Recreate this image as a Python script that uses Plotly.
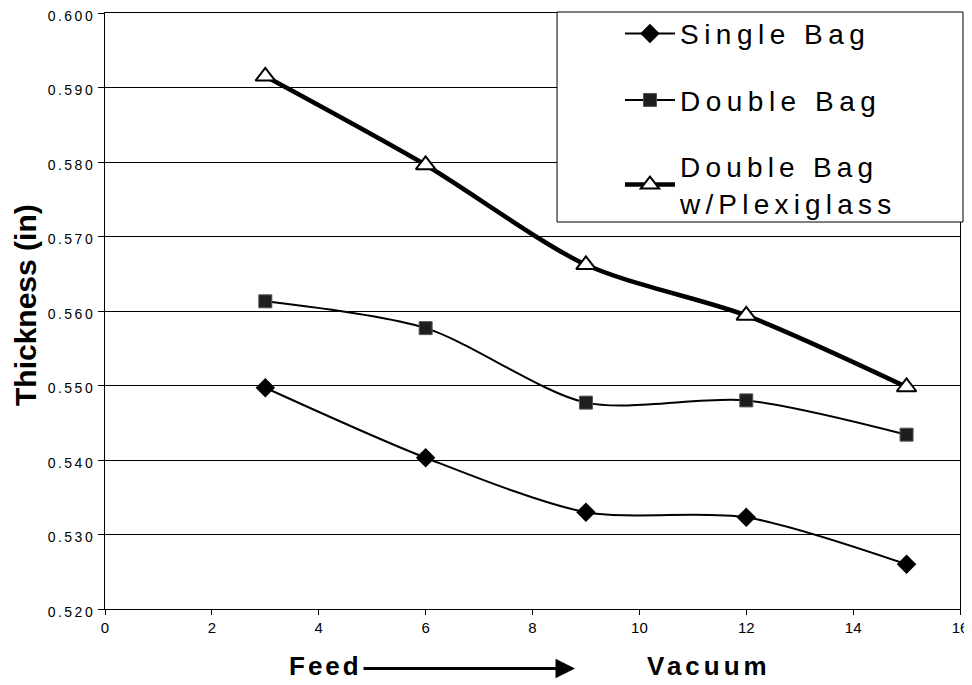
import plotly.graph_objects as go

x_vals = [3, 6, 9, 12, 15]
single_bag = [0.5497, 0.5403, 0.5330, 0.5323, 0.5260]
double_bag = [0.5613, 0.5577, 0.5477, 0.5480, 0.5434]
double_bag_plexi = [0.5915, 0.5796, 0.5662, 0.5594, 0.5498]
y_ticks = [0.520, 0.530, 0.540, 0.550, 0.560, 0.570, 0.580, 0.590, 0.600]
y_tick_labels = ["0.520", "0.530", "0.540", "0.550", "0.560", "0.570", "0.580", "0.590", "0.600"]
x_ticks = [0, 2, 4, 6, 8, 10, 12, 14, 16]
series_names = ["Single Bag", "Double Bag", "Double Bag<br>w/Plexiglass"]
y_title = "Thickness (in)"
bottom_left_label = "Feed"
bottom_right_label = "Vacuum"

FONT = "Liberation Sans, Arial, sans-serif"
NARROW = "Liberation Sans Narrow, Arial Narrow, Liberation Sans, sans-serif"


def spaced(txt, px):
    return f'<span style="letter-spacing:{px}px">{txt}</span>'


fig = go.Figure()
fig.add_trace(go.Scatter(
    x=x_vals, y=single_bag, name=spaced(series_names[0], 5.5), mode="lines+markers",
    line=dict(color="black", width=2, shape="spline", smoothing=0.8),
    marker=dict(symbol="diamond", size=15, color="black"),
    legendgroup="a"))
fig.add_trace(go.Scatter(
    x=x_vals, y=double_bag, name=spaced(series_names[1], 5.5), mode="lines+markers",
    line=dict(color="black", width=2, shape="spline", smoothing=0.8),
    marker=dict(symbol="square", size=13, color="#1e1e1e", line=dict(color="#555", width=1)),
    legendgroup="b"))
fig.add_trace(go.Scatter(
    x=x_vals, y=double_bag_plexi, name=spaced(series_names[2], 5.2), mode="lines+markers",
    line=dict(color="black", width=4.5, shape="spline", smoothing=0.8),
    marker=dict(symbol="triangle-up", size=17, color="white", line=dict(color="black", width=2)),
    legendgroup="c"))

fig.update_layout(
    width=964, height=677,
    margin=dict(l=97, r=12, t=5, b=76, autoexpand=False),
    paper_bgcolor="white", plot_bgcolor="white",
    font=dict(family=FONT, color="black"),
    showlegend=True,
    legend=dict(
        x=0.6023, y=1.007, xanchor="left", yanchor="top",
        bgcolor="rgba(0,0,0,0)", borderwidth=0,
        font=dict(size=28, family=FONT, color="black"),
        tracegroupgap=27, itemwidth=50,
        traceorder="grouped",
    ),
    xaxis=dict(
        range=[0, 16], tickvals=x_ticks, ticks="outside", ticklen=5,
        tickcolor="black", showline=True, linecolor="black", linewidth=1,
        mirror=True, showgrid=False, zeroline=False, automargin=False,
        ticklabeloverflow="allow",
        tickfont=dict(size=15, family=NARROW),
    ),
    yaxis=dict(
        range=[0.520, 0.600], tickvals=y_ticks,
        ticktext=[spaced(t, 2.5) for t in y_tick_labels],
        ticks="outside", ticklen=6, tickcolor="black",
        showline=True, linecolor="black", linewidth=1, mirror=True,
        showgrid=True, gridcolor="black", gridwidth=1, zeroline=False,
        automargin=False, ticklabeloverflow="allow", ticklabelshift=3,
        tickfont=dict(size=14, family=FONT),
    ),
    shapes=[dict(type="rect", xref="paper", yref="paper",
                 x0=0.5287, x1=1.0035, y0=0.6493, y1=1.0017,
                 line=dict(color="black", width=1), fillcolor="white", layer="above")],
)

fig.add_annotation(text=f"<b>{y_title}</b>", x=-0.0936, y=0.51, xref="paper", yref="paper",
                   textangle=-90, showarrow=False, font=dict(size=30, family=FONT),
                   xanchor="center", yanchor="middle")
fig.add_annotation(text=spaced(f"<b>{bottom_left_label}</b>", 3), x=0.258, y=-0.0956, xref="paper", yref="paper",
                   showarrow=False, font=dict(size=26, family=FONT), xanchor="center", yanchor="middle")
fig.add_annotation(text=spaced(f"<b>{bottom_right_label}</b>", 4), x=0.707, y=-0.0956, xref="paper", yref="paper",
                   showarrow=False, font=dict(size=26, family=FONT), xanchor="center", yanchor="middle")
fig.add_annotation(text="", x=0.5497, y=-0.1, xref="x domain", yref="y domain",
                   ax=0.3006, ay=-0.1, axref="x domain", ayref="y domain",
                   showarrow=True, arrowhead=2, arrowsize=1.3, arrowwidth=3, arrowcolor="black")

fig.write_html("out.html")
